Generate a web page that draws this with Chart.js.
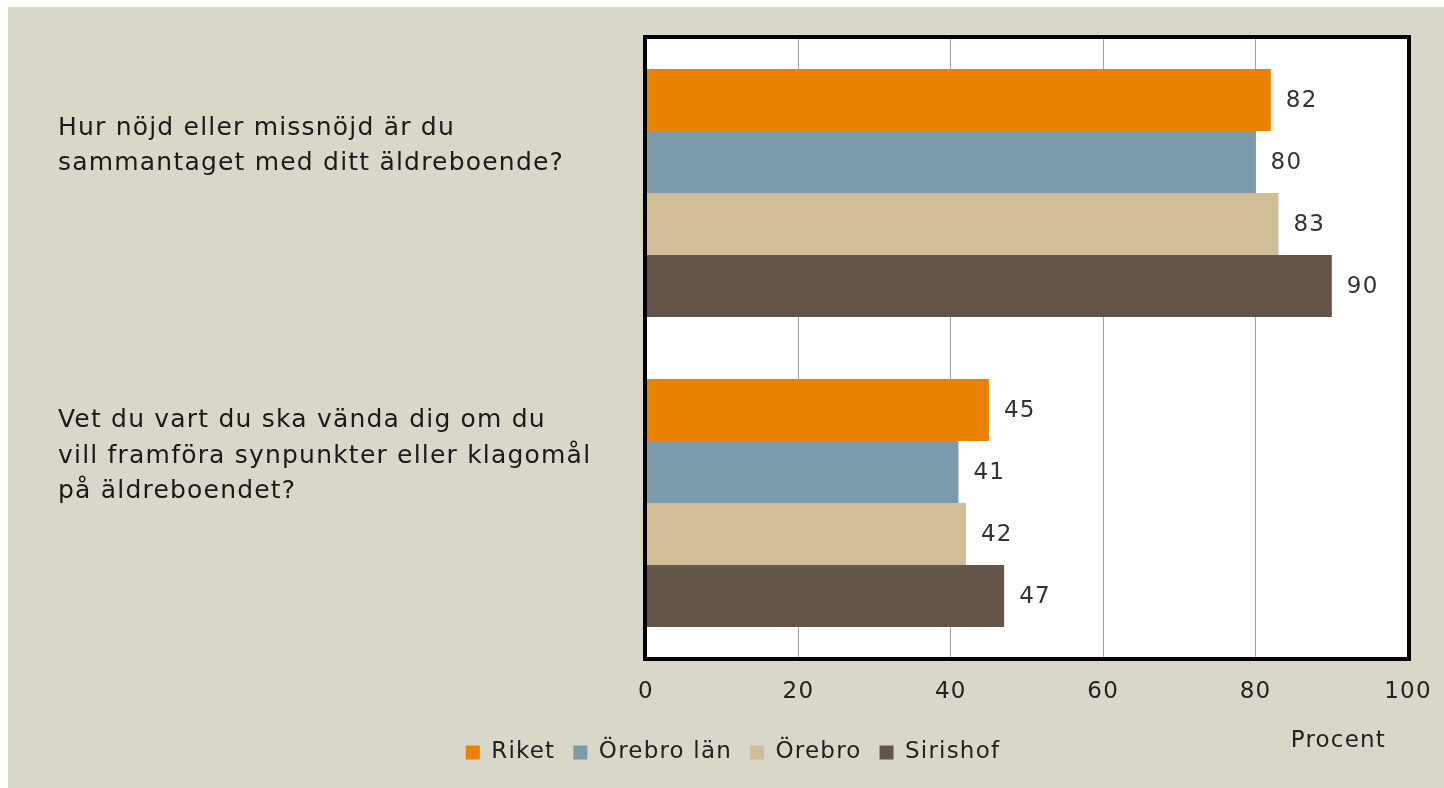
<!DOCTYPE html>
<html>
<head>
<meta charset="utf-8">
<script src="https://cdn.jsdelivr.net/npm/chart.js@4.4.0/dist/chart.umd.min.js"></script>
<style>
  html, body { margin: 0; padding: 0; background: #ffffff; }
  #wrap { position: absolute; left: 8px; top: 7px; width: 1436px; height: 781px; background: #d9d6ca; }
</style>
</head>
<body>
<div id="wrap"><canvas id="chart" width="1436" height="781"></canvas></div>
<script>
// Frågor (kategorier)
const fragor = [
  ["Hur nöjd eller missnöjd är du", "sammantaget med ditt äldreboende?"],
  ["Vet du vart du ska vända dig om du", "vill framföra synpunkter eller klagomål", "på äldreboendet?"]
];
// Serier, procent
const riket = [82, 45];
const orebroLan = [80, 41];
const orebro = [83, 42];
const sirishof = [90, 47];
const xTicks = [0, 20, 40, 60, 80, 100];

const FONT = "'DejaVu Sans', sans-serif";
const SPACING = "1.2px";

// Vit bakgrund i diagramytan + svart ram, värden vid staplarna, "Procent"
const extras = {
  id: "extras",
  beforeUpdate(chart) {
    chart.ctx.letterSpacing = SPACING;
  },
  beforeDraw(chart) {
    const a = chart.chartArea, ctx = chart.ctx;
    ctx.letterSpacing = SPACING;
    ctx.save();
    ctx.fillStyle = "#ffffff";
    ctx.fillRect(a.left, a.top, a.right - a.left, a.bottom - a.top);
    ctx.restore();
  },
  afterDatasetsDraw(chart) {
    const ctx = chart.ctx, a = chart.chartArea;
    ctx.save();
    ctx.font = "23px " + FONT;
    ctx.fillStyle = "#333333";
    ctx.textAlign = "left";
    ctx.textBaseline = "middle";
    chart.data.datasets.forEach((ds, i) => {
      chart.getDatasetMeta(i).data.forEach((bar, j) => {
        ctx.fillText(ds.data[j], bar.x + 15, bar.y + 1);
      });
    });
    ctx.strokeStyle = "#000000";
    ctx.lineWidth = 4;
    ctx.strokeRect(a.left - 1, a.top - 1, a.right - a.left + 2, a.bottom - a.top + 2);
    ctx.fillStyle = "#222222";
    ctx.textAlign = "right";
    ctx.fillText("Procent", a.right - 22, 734);
    ctx.restore();
  }
};

new Chart(document.getElementById("chart"), {
  type: "bar",
  data: {
    labels: fragor,
    datasets: [
      { label: "Riket", data: riket, backgroundColor: "#e88200" },
      { label: "Örebro län", data: orebroLan, backgroundColor: "#7b9aab" },
      { label: "Örebro", data: orebro, backgroundColor: "#d2be96" },
      { label: "Sirishof", data: sirishof, backgroundColor: "#635549" }
    ]
  },
  options: {
    indexAxis: "y",
    responsive: false,
    animation: false,
    barPercentage: 1,
    categoryPercentage: 0.8,
    layout: { padding: { left: 50, right: 36, top: 31, bottom: 14 } },
    scales: {
      x: {
        min: 0, max: 100,
        afterBuildTicks(scale) { scale.ticks = xTicks.map(v => ({ value: v })); },
        grid: { color: "#a0a0a0", lineWidth: 1, drawTicks: false },
        border: { display: false },
        ticks: { padding: 20, color: "#222222", font: { family: FONT, size: 23 } },
        afterFit(scale) { scale.height = 65; scale.paddingLeft = 0; scale.paddingRight = 0; }
      },
      y: {
        grid: { display: false },
        border: { display: false },
        ticks: {
          crossAlign: "far",
          labelOffset: -47,
          color: "#1a1a1a",
          font: { family: FONT, size: 25, lineHeight: 1.42 }
        },
        afterFit(scale) { scale.width = 588; scale.paddingTop = 0; scale.paddingBottom = 0; }
      }
    },
    plugins: {
      legend: {
        position: "bottom",
        labels: {
          boxWidth: 14, boxHeight: 14, padding: 18,
          color: "#222222",
          font: { family: FONT, size: 23 }
        }
      },
      tooltip: { enabled: false }
    }
  },
  plugins: [extras]
});
</script>
</body>
</html>
